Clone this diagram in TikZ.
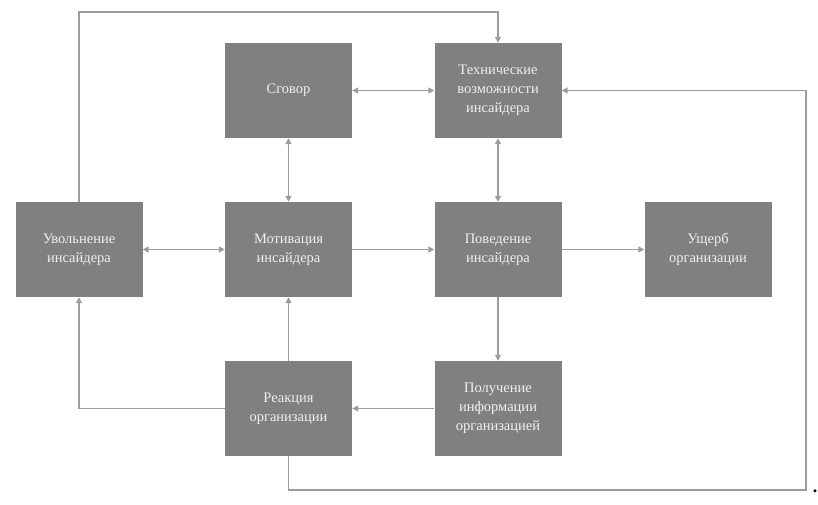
\documentclass[tikz,border=0pt]{standalone}
\usepackage{fontspec}
\setmainfont{Liberation Serif}
\usetikzlibrary{arrows.meta}
\definecolor{boxgray}{HTML}{808080}
\definecolor{linegray}{HTML}{9C9C9C}
\begin{document}
\begin{tikzpicture}[x=1pt,y=-1pt,
  blk/.style={fill=boxgray,draw=none,minimum width=127pt,minimum height=95pt,
    text=white!94!black,align=center,inner sep=2pt,font=\fontsize{14.5}{19}\selectfont},
  conn/.style={draw=linegray,line width=1.7pt,-{Triangle[length=6pt,width=6pt]}},
  dconn/.style={draw=linegray,line width=1.7pt,{Triangle[length=6pt,width=6pt]}-{Triangle[length=6pt,width=6pt]}},
  pline/.style={draw=linegray,line width=1.7pt}]
\useasboundingbox (0,0) rectangle (818,504);
\node[blk] (sgov) at (288.5,90.5) {Сговор};
\node[blk] (teh) at (498,90.5) {Технические\\возможности\\инсайдера};
\node[blk] (uvol) at (79,249.5) {Увольнение\\инсайдера};
\node[blk] (motiv) at (288.5,249.5) {Мотивация\\инсайдера};
\node[blk] (pov) at (498,249.5) {Поведение\\инсайдера};
\node[blk] (usch) at (708,249.5) {Ущерб\\организации};
\node[blk] (reak) at (288.5,408.5) {Реакция\\организации};
\node[blk] (polu) at (498,408.5) {Получение\\информации\\организацией};
\coordinate (top) at (0,12);
\coordinate (bot) at (0,490);
\coordinate (rx) at (806,0);
% top loop
\draw[conn] (uvol.north) -- (uvol.north |- top) -| (teh.north);
% double arrows
\draw[dconn] (sgov.east) -- (teh.west);
\draw[dconn] (sgov.south) -- (motiv.north);
\draw[dconn] (teh.south) -- (pov.north);
\draw[dconn] (uvol.east) -- (motiv.west);
% single arrows
\draw[conn] (motiv.east) -- (pov.west);
\draw[conn] (pov.east) -- (usch.west);
\draw[conn] (pov.south) -- (polu.north);
\draw[conn] (polu.west) -- (reak.west -| reak.east);
\draw[conn] (reak.north) -- (motiv.south);
\draw[conn] (reak.west) -| (uvol.south);
% right loop
\draw[conn] (reak.south) -- (reak.south |- bot) -| (rx |- teh.east) -- (teh.east);
\node[anchor=base,inner sep=0pt,font=\fontsize{18}{18}\selectfont\bfseries] (dot) at (815,492) {.};
\end{tikzpicture}
\end{document}
